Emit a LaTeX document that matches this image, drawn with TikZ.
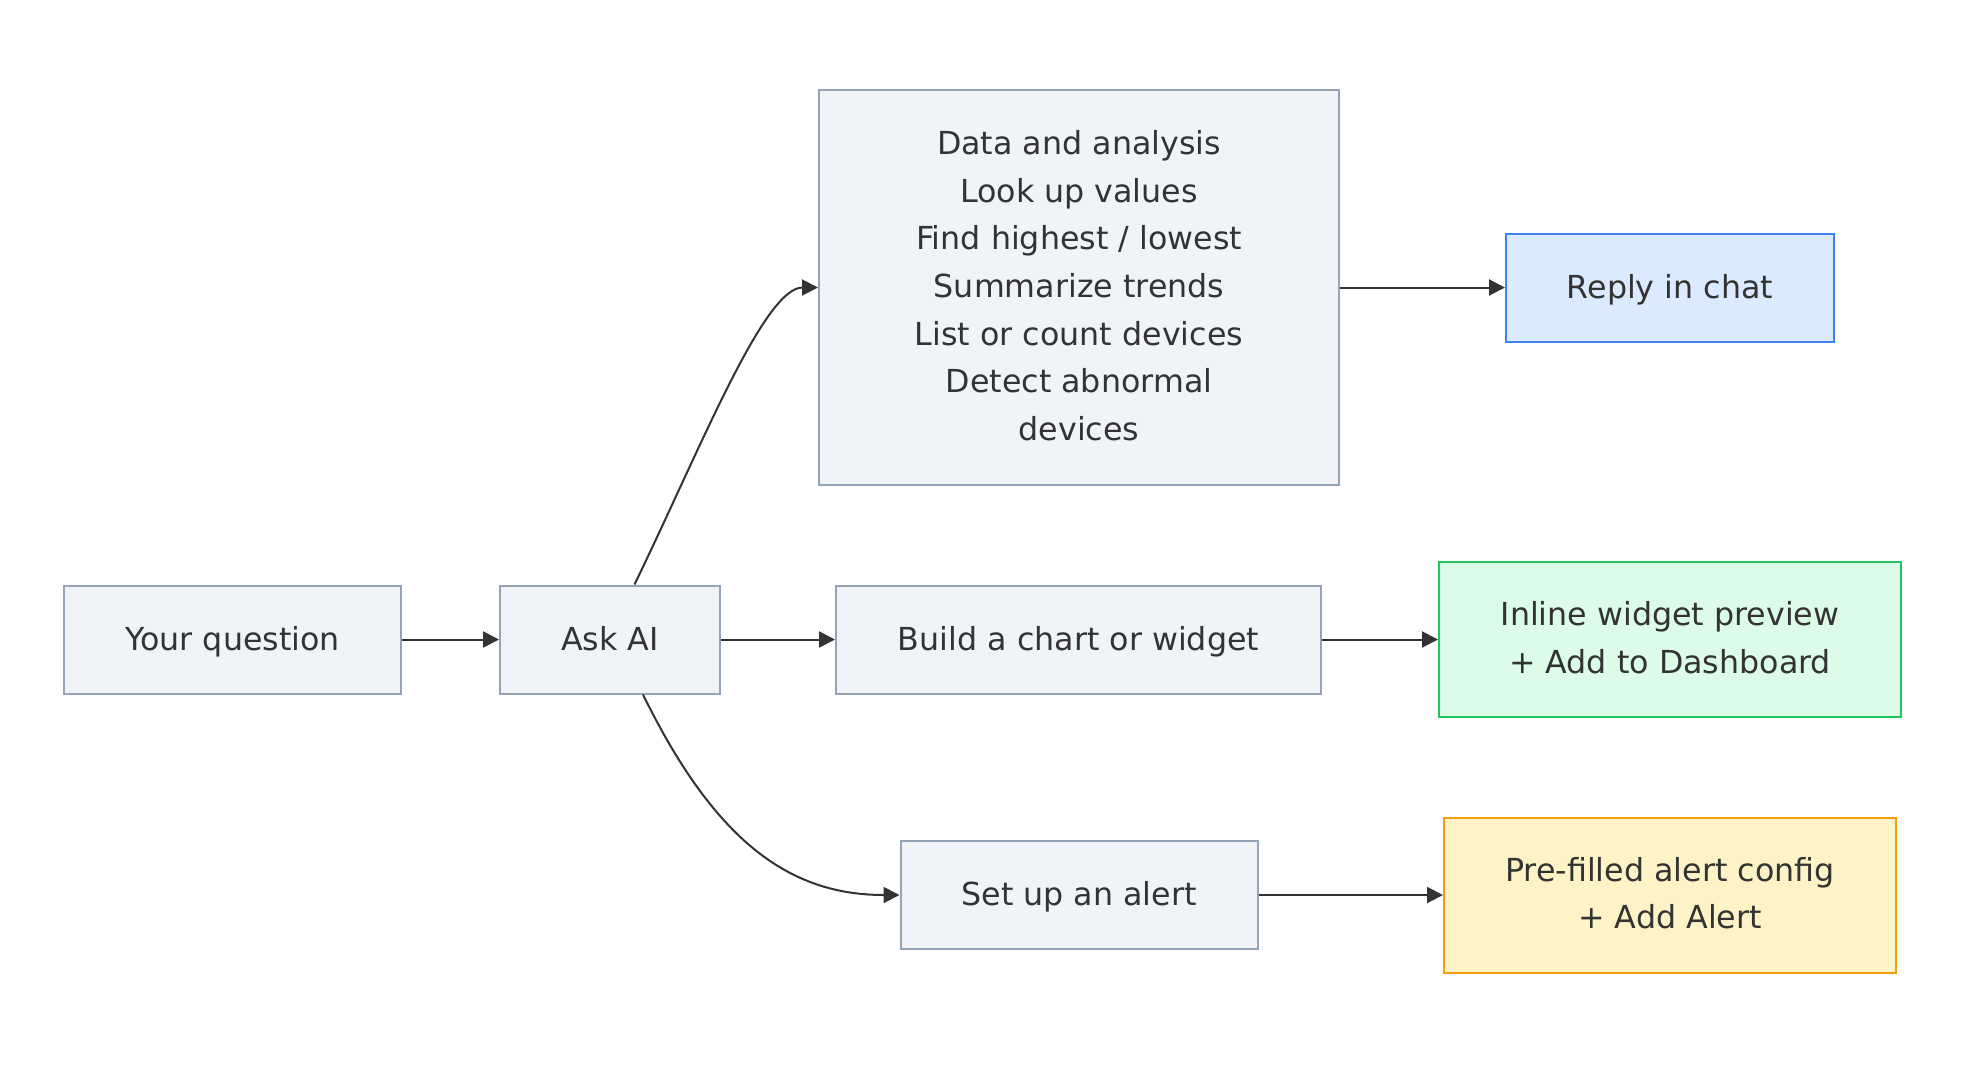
\documentclass[tikz,border=0pt]{standalone}
\usepackage{fontspec}
\setmainfont{DejaVu Sans}
\usetikzlibrary{arrows.meta}
\definecolor{boxfill}{HTML}{F0F4F9}
\definecolor{boxline}{HTML}{94A3B8}
\definecolor{txt}{HTML}{333333}
\definecolor{bluefill}{HTML}{DBEAFE}
\definecolor{blueline}{HTML}{3B82F6}
\definecolor{greenfill}{HTML}{DCFCE7}
\definecolor{greenline}{HTML}{22C55E}
\definecolor{yellowfill}{HTML}{FEF3C7}
\definecolor{yellowline}{HTML}{F59E0B}
\definecolor{edge}{HTML}{333333}
\newcommand\boxtopstrut{\rule{0pt}{15pt}}
\newcommand\boxbotstrut{\rule[-4.04pt]{0pt}{4.04pt}}
\newcommand\mtop{\rule{0pt}{14.04pt}}
\newcommand\mbot{\rule[-4.04pt]{0pt}{4.04pt}}
\begin{document}
\begin{tikzpicture}[x=0.5pt,y=-0.5pt,
  boxbase/.style={draw=boxline, fill=boxfill, line width=1pt, text=txt, align=center,
    inner sep=0pt, font=\fontsize{15.85pt}{23.8pt}\selectfont},
  box/.style={boxbase, execute at begin node=\boxtopstrut, execute at end node=\boxbotstrut},
  mbox/.style={boxbase},
  bluebox/.style={box, draw=blueline, fill=bluefill},
  greenbox/.style={mbox, draw=greenline, fill=greenfill},
  yellowbox/.style={mbox, draw=yellowline, fill=yellowfill},
  conn/.style={draw=edge, line width=1pt, -{Triangle[length=8pt,width=8pt]}}]
\useasboundingbox (0,0) rectangle (1966,1072);
\fill[white] (0,0) rectangle (1966,1072);

\node[box, minimum width=168.5pt, minimum height=54pt] (yq) at (232.5,639.5) {Your question};
\node[box, minimum width=110pt, minimum height=54pt] (ask) at (610,639.5) {Ask AI};
\node[mbox, minimum width=260pt, minimum height=197.5pt] (data) at (1079,287.5)
  {\mtop Data and analysis\\Look up values\\Find highest / lowest\\Summarize trends\\List or count devices\\Detect abnormal\hspace*{5pt}\\devices\mbot};
\node[bluebox, minimum width=164pt, minimum height=54pt] (reply) at (1670,287.5) {Reply in chat};
\node[box, minimum width=242.5pt, minimum height=54pt] (build) at (1078.5,639.5) {Build a chart or widget};
\node[greenbox, minimum width=231pt, minimum height=77.5pt] (inline) at (1670,639.5)
  {\mtop Inline widget preview\\+ Add to Dashboard\mbot};
\node[box, minimum width=178.5pt, minimum height=54pt] (alert) at (1079,895) {Set up an alert};
\node[yellowbox, minimum width=226pt, minimum height=77.5pt] (pre) at (1670,895)
  {\mtop Pre-filled alert config\\+ Add Alert\mbot};

\draw[conn] (yq.east) -- (ask.west);
\draw[conn] (ask.east) -- (build.west);
\draw[conn] (data.east) -- (reply.west);
\draw[conn] (build.east) -- (inline.west);
\draw[conn] (alert.east) -- (pre.west);
\draw[conn] ([xshift=12.25pt]ask.north) .. controls +(66,-136) and +(-54,0) .. (data.west);
\draw[conn] ([xshift=16.5pt]ask.south) .. controls +(72,147) and +(-110,0) .. (alert.west);
\end{tikzpicture}
\end{document}
